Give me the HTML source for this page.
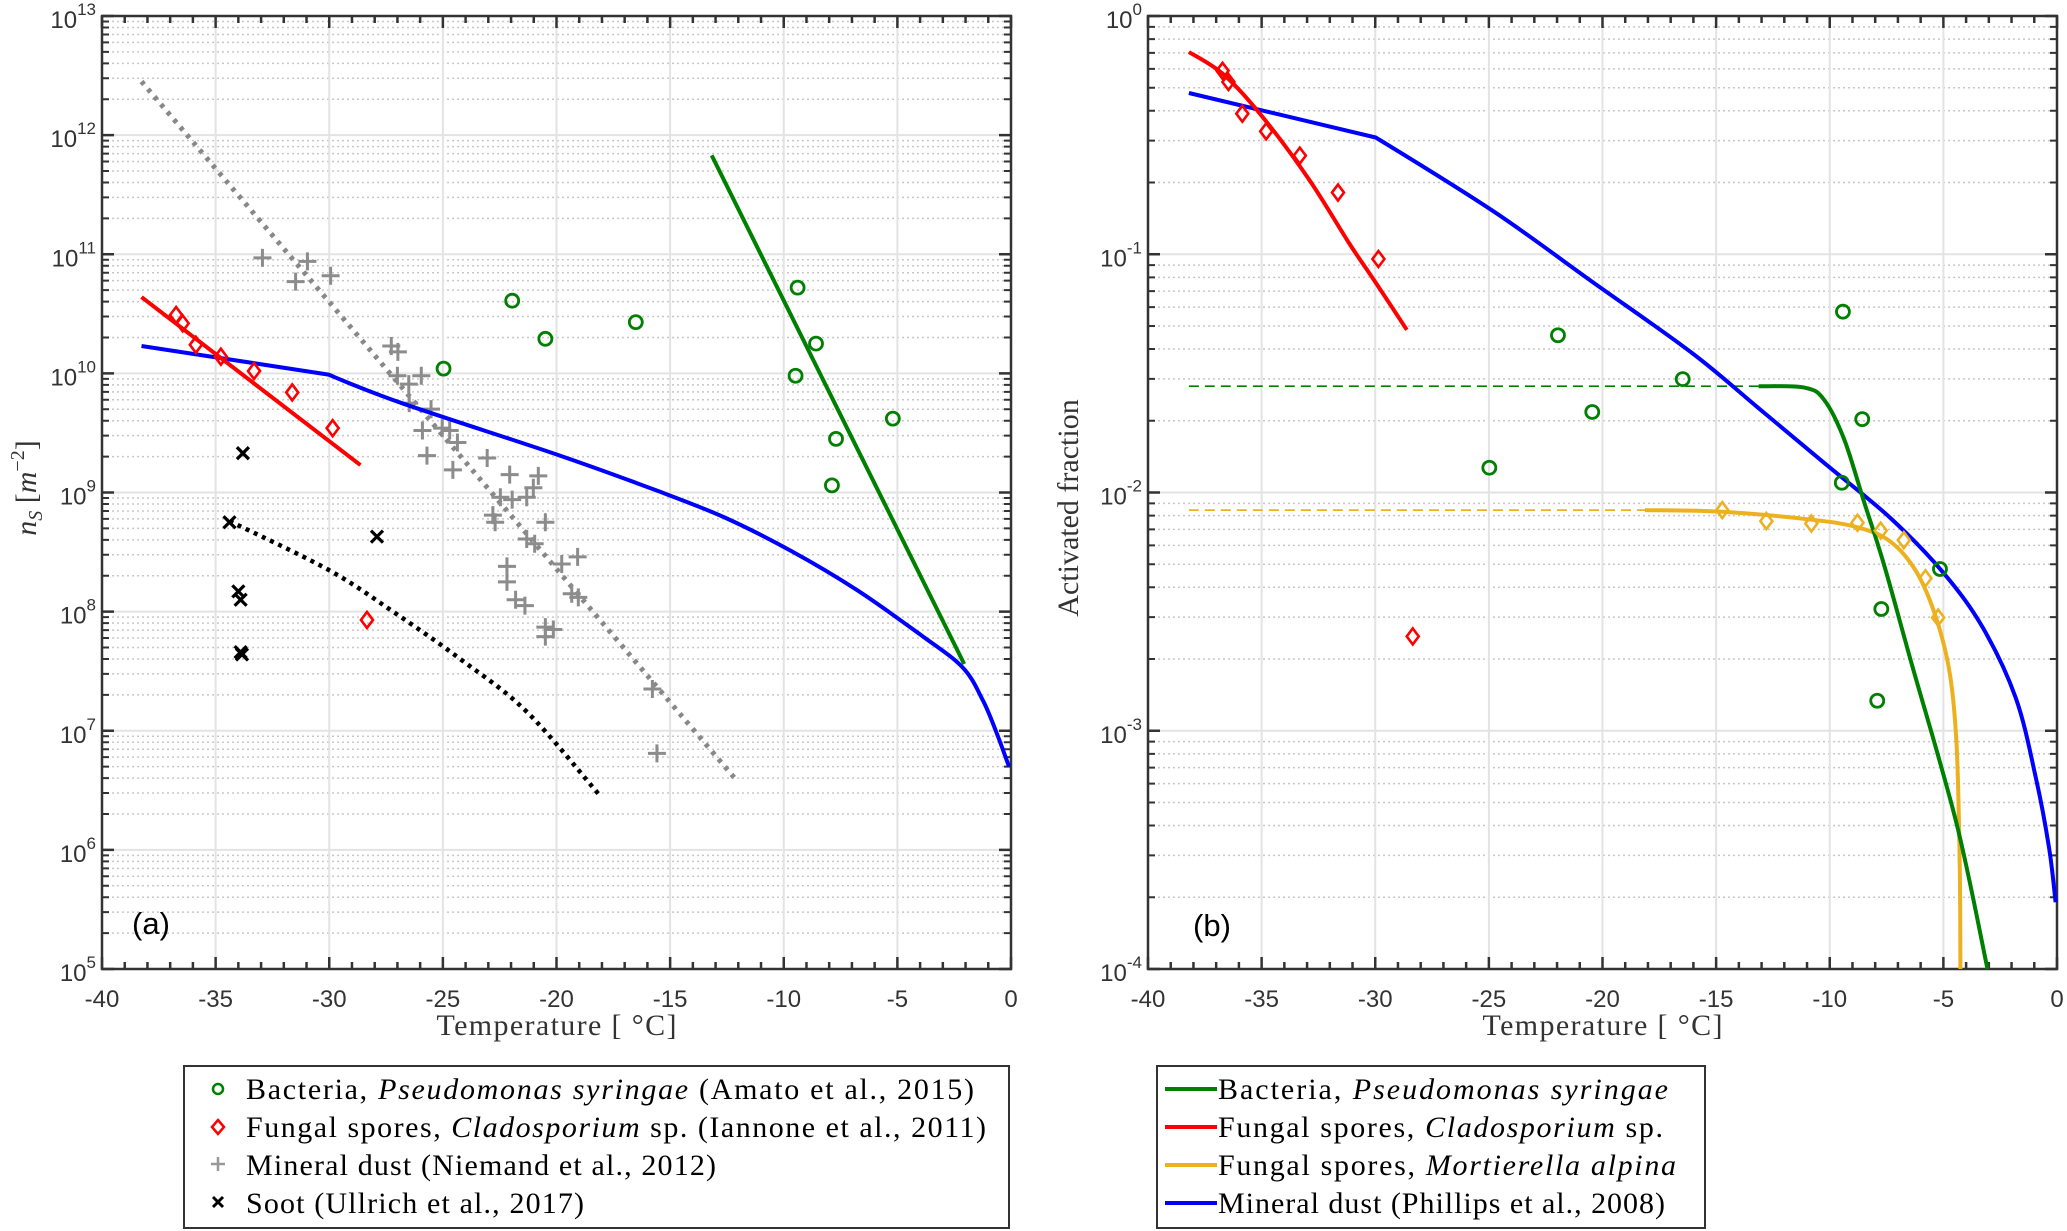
<!DOCTYPE html>
<html><head><meta charset="utf-8">
<style>
html,body{margin:0;padding:0;background:#fff;}
svg{display:block;}
.tick{font-family:"Liberation Sans",sans-serif;font-size:24px;fill:#333;}
.lab{font-family:"Liberation Serif",serif;font-size:30px;fill:#333;}
.leg{font-family:"Liberation Serif",serif;font-size:30px;fill:#000;}
</style></head>
<body>
<svg id="fig" width="2067" height="1231" viewBox="0 0 2067 1231" xmlns="http://www.w3.org/2000/svg">
<g id="pa"></g>
<g id="pb"></g>
<g id="legA">
 <rect x="184" y="1066" width="825" height="162" fill="#fff" stroke="#333" stroke-width="2"/>
 <circle cx="218" cy="1089" r="5" fill="none" stroke="#008000" stroke-width="2.5"/>
 <text class="leg" x="246" y="1099" textLength="728" lengthAdjust="spacing">Bacteria,  <tspan font-style="italic">Pseudomonas syringae</tspan> (Amato et al., 2015)</text>
 <path d="M218 1120 L224 1127 L218 1134 L212 1127 Z" fill="none" stroke="#f00" stroke-width="2.5"/>
 <text class="leg" x="246" y="1137" textLength="740" lengthAdjust="spacing">Fungal spores,  <tspan font-style="italic">Cladosporium</tspan> sp. (Iannone et al., 2011)</text>
 <path d="M218 1157 V1171 M211 1164 H225" stroke="#999" stroke-width="2.5"/>
 <text class="leg" x="246" y="1175" textLength="470" lengthAdjust="spacing">Mineral dust (Niemand et al., 2012)</text>
 <path d="M213 1197 L223 1207 M223 1197 L213 1207" stroke="#000" stroke-width="3"/>
 <text class="leg" x="246" y="1213" textLength="338" lengthAdjust="spacing">Soot (Ullrich et al., 2017)</text>
</g>
<g id="legB">
 <rect x="1157" y="1066" width="548" height="162" fill="#fff" stroke="#333" stroke-width="2"/>
 <line x1="1165" y1="1089" x2="1217" y2="1089" stroke="#008000" stroke-width="4"/>
 <text class="leg" x="1218" y="1099" textLength="450" lengthAdjust="spacing">Bacteria,  <tspan font-style="italic">Pseudomonas syringae</tspan></text>
 <line x1="1165" y1="1127" x2="1217" y2="1127" stroke="#f00" stroke-width="4"/>
 <text class="leg" x="1218" y="1137" textLength="445" lengthAdjust="spacing">Fungal spores,  <tspan font-style="italic">Cladosporium</tspan> sp.</text>
 <line x1="1165" y1="1165" x2="1217" y2="1165" stroke="#edb120" stroke-width="4"/>
 <text class="leg" x="1218" y="1175" textLength="458" lengthAdjust="spacing">Fungal spores,  <tspan font-style="italic">Mortierella alpina</tspan></text>
 <line x1="1165" y1="1203" x2="1217" y2="1203" stroke="#00f" stroke-width="4"/>
 <text class="leg" x="1218" y="1213" textLength="447" lengthAdjust="spacing">Mineral dust (Phillips et al., 2008)</text>
</g>
</svg>
<script>
// ---------- data: panel (a), values as [T, log10(nS)] ----------
const aGreenLineT=[-13.17,-2.06];
const aGreenLineLog=[11.83,7.56];
const aGreenPtsT=[-21.95,-20.49,-16.51,-24.97,-9.39,-8.58,-9.48,-7.70,-7.88,-5.2];
const aGreenPtsLog=[10.61,10.29,10.43,10.04,10.72,10.25,9.98,9.45,9.06,9.62];
const aRedLineT=[-38.26,-28.63];
const aRedLineLog=[10.64,9.23];
const aRedPtsT=[-36.74,-36.45,-35.87,-34.77,-33.31,-31.63,-29.85,-28.34];
const aRedPtsLog=[10.49,10.42,10.24,10.14,10.02,9.84,9.54,7.93];
const aBlueT=[-38.26,-30.03,-26.8,-19.85,-15.5,-12.6,-9.68,-6.77,-3.87,-2.12,-1.25,-0.67,-0.09];
const aBlueLog=[10.23,9.99,9.75,9.31,9.01,8.79,8.51,8.18,7.79,7.53,7.26,7.0,6.70];
const aGrayLineT=[-38.26,-12.15];
const aGrayLineLog=[12.45,6.60];
const aBlackLineT=[-34.39,-30.03,-27.12,-24.22,-21.31,-18.11];
const aBlackLineLog=[8.76,8.35,7.99,7.60,7.16,6.46];
const aSootT=[-33.8,-34.39,-27.9,-34.0,-33.9,-33.9,-33.84];
const aSootLog=[9.33,8.75,8.63,8.17,8.1,7.66,7.64];
const aDustT=[-32.94,-31.48,-30.96,-29.94,-27.27,-26.98,-27.0,-26.5,-25.95,-26.48,-25.52,-25.9,-25.03,-24.7,-24.36,-25.7,-24.56,-23.05,-22.06,-22.47,-21.95,-22.8,-22.7,-21.31,-21.02,-20.8,-20.49,-21.31,-20.96,-22.18,-22.18,-21.8,-21.39,-20.49,-20.14,-20.49,-19.77,-19.07,-19.33,-19.04,-15.78,-15.58];
const aDustLog=[10.97,10.77,10.94,10.82,10.23,10.18,9.98,9.91,9.98,9.75,9.70,9.52,9.54,9.52,9.42,9.31,9.19,9.29,9.15,8.96,8.94,8.81,8.75,8.96,9.04,9.14,8.75,8.61,8.57,8.38,8.25,8.10,8.05,7.87,7.85,7.79,8.40,8.46,8.15,8.12,7.35,6.81];
// ---------- data: panel (b), values as [T, log10(fraction)] ----------
const bRedT=[-38.2,-36.66,-34.92,-32.88,-31.14,-29.98,-28.61];
const bRedLog=[-0.151,-0.247,-0.428,-0.691,-0.955,-1.119,-1.317];
const bRedPtsT=[-36.72,-36.46,-35.85,-34.8,-33.32,-31.64,-29.86,-28.35];
const bRedPtsLog=[-0.23,-0.277,-0.41,-0.484,-0.586,-0.741,-1.02,-2.604];
const bBlueT=[-38.2,-29.98,-24.75,-20.4,-16.04,-13.13,-10.23,-7.33,-5.0,-3.26,-1.81,-0.94,-0.35,-0.06];
const bBlueLog=[-0.323,-0.51,-0.823,-1.119,-1.416,-1.646,-1.877,-2.107,-2.337,-2.568,-2.864,-3.193,-3.49,-3.72];
const bGreenDashT=[-38.2,-13.13];
const bGreenDashLog=[-1.554,-1.554];
const bGreenT=[-13.13,-11.1,-10.23,-9.36,-8.49,-7.62,-6.45,-4.42,-3.06];
const bGreenLog=[-1.554,-1.56,-1.613,-1.778,-2.04,-2.30,-2.70,-3.39,-4.0];
const bGreenPtsT=[-21.96,-20.45,-24.98,-16.47,-9.42,-8.57,-9.47,-5.15,-7.73,-7.91];
const bGreenPtsLog=[-1.34,-1.662,-1.896,-1.524,-1.241,-1.692,-1.959,-2.321,-2.489,-2.874];
const bOrangeDashT=[-38.2,-18.13];
const bOrangeDashLog=[-2.074,-2.074];
const bOrangeT=[-18.13,-14.73,-10.81,-8.78,-7.33,-6.16,-5.29,-4.71,-4.42,-4.28,-4.25];
const bOrangeLog=[-2.074,-2.081,-2.114,-2.146,-2.206,-2.337,-2.535,-2.765,-3.06,-3.556,-4.0];
const bOrangePtsT=[-14.73,-12.79,-10.81,-8.78,-7.76,-6.74,-5.79,-5.23];
const bOrangePtsLog=[-2.074,-2.12,-2.13,-2.127,-2.16,-2.2,-2.36,-2.525];
const xTicks=[-40,-35,-30,-25,-20,-15,-10,-5,0];
const aYExp=[5,6,7,8,9,10,11,12,13];
const bYExp=[-4,-3,-2,-1,0];

const NS='http://www.w3.org/2000/svg';
function mk(tag,attrs,parent){const e=document.createElementNS(NS,tag);for(const k in attrs)e.setAttribute(k,attrs[k]);parent.appendChild(e);return e;}

function makeAxes(L,R,T,B,yMin,yMax){
  return {x:t=>L+(t+40)/40*(R-L), y:l=>B-(l-yMin)/(yMax-yMin)*(B-T), L,R,T,B,yMin,yMax};
}
const A=makeAxes(102,1011,16,969,5,13);
const Bx=makeAxes(1148,2057,16,969,-4,0);

function drawFrame(g,ax,exps,pre){
  for(let d=ax.yMin; d<ax.yMax; d++){
    for(let m=2;m<=9;m++){
      const y=ax.y(d+Math.log10(m));
      const ln=mk('line',{x1:ax.L,x2:ax.R,y1:y,y2:y,stroke:'#c8c8c8','stroke-width':1.5,'stroke-dasharray':'2 3'},g);
      
      
      const tk=mk('path',{d:`M${ax.L} ${y}h7M${ax.R} ${y}h-7`,stroke:'#333','stroke-width':2},g);
      
      
    }
  }
  xTicks.forEach(t=>{
    const x=ax.x(t);
    const ln=mk('line',{x1:x,x2:x,y1:ax.T,y2:ax.B,stroke:'#e3e3e3','stroke-width':2},g);
    
    
  });
  exps.forEach(e=>{
    const y=ax.y(e);
    const ln=mk('line',{x1:ax.L,x2:ax.R,y1:y,y2:y,stroke:'#e3e3e3','stroke-width':2},g);
    
    
  });
  for(let t=-40;t<=0;t++){
    const x=ax.x(t); const len=(t%5===0)?12:7;
    const tk=mk('path',{d:`M${x} ${ax.B}v${-len}M${x} ${ax.T}v${len}`,stroke:'#333','stroke-width':2.5},g);
    
    
  }
  xTicks.forEach(t=>{
    const tx=mk('text',{x:ax.x(t),y:ax.B+38,'text-anchor':'middle',class:'tick'},g);
    tx.textContent=String(t);
    
    
  });
  exps.forEach(e=>{
    const y=ax.y(e);
    const tk=mk('path',{d:`M${ax.L} ${y}h12M${ax.R} ${y}h-12`,stroke:'#333','stroke-width':2.5},g);
    
    
    const tx=mk('text',{x:ax.L-6,y:y+12,'text-anchor':'end',class:'tick'},g);
    tx.innerHTML='10<tspan dy="-13" font-size="17">'+e+'</tspan>';
    
    
  });
  const fr=mk('rect',{x:ax.L,y:ax.T,width:ax.R-ax.L,height:ax.B-ax.T,fill:'none',stroke:'#333','stroke-width':2.5},g);
  
  
  const xl=mk('text',{x:(ax.L+ax.R)/2-120,y:1035,class:'lab',textLength:240,lengthAdjust:'spacing'},g);
  xl.textContent='Temperature [  °C]';
  
  
}

// smooth (Catmull-Rom) path through data points; corners = indices kept sharp
function line(g,ax,T,Lg,attrs,name,corners){
  corners=corners||[];
  const P=T.map((t,i)=>[ax.x(t),ax.y(Lg[i])]);
  const n=P.length;
  const prev=i=>(i===0||corners.includes(i))?P[i]:P[i-1];
  const next=i=>(i===n-1||corners.includes(i))?P[i]:P[i+1];
  let d='M'+P[0][0].toFixed(1)+' '+P[0][1].toFixed(1);
  for(let i=0;i<n-1;i++){
    const p1=P[i],p2=P[i+1];
    const a0=prev(i),a1=next(i),b0=prev(i+1),b1=next(i+1);
    const c1=[p1[0]+(a1[0]-a0[0])/6,p1[1]+(a1[1]-a0[1])/6];
    const c2=[p2[0]-(b1[0]-b0[0])/6,p2[1]-(b1[1]-b0[1])/6];
    d+=`C${c1[0].toFixed(1)} ${c1[1].toFixed(1)} ${c2[0].toFixed(1)} ${c2[1].toFixed(1)} ${p2[0].toFixed(1)} ${p2[1].toFixed(1)}`;
  }
  const p=mk('path',Object.assign({d:d,fill:'none','stroke-linejoin':'round'},attrs),g);
  
  
}
function circles(g,ax,T,Lg,col,name){
  T.forEach((t,i)=>{
    const c=mk('circle',{cx:ax.x(t),cy:ax.y(Lg[i]),r:6.5,fill:'none',stroke:col,'stroke-width':2.8},g);
    
    
  });
}
function diamonds(g,ax,T,Lg,col,name){
  T.forEach((t,i)=>{
    const x=ax.x(t),y=ax.y(Lg[i]);
    const p=mk('path',{d:`M${x} ${y-8}L${x+6} ${y}L${x} ${y+8}L${x-6} ${y}Z`,fill:'none',stroke:col,'stroke-width':2.6},g);
    
    
  });
}
function pluses(g,ax,T,Lg,col,name){
  T.forEach((t,i)=>{
    const x=ax.x(t),y=ax.y(Lg[i]);
    const p=mk('path',{d:`M${x-9} ${y}h18M${x} ${y-9}v18`,stroke:col,'stroke-width':3},g);
    
    
  });
}
function crosses(g,ax,T,Lg,col,name){
  T.forEach((t,i)=>{
    const x=ax.x(t),y=ax.y(Lg[i]);
    const p=mk('path',{d:`M${x-6} ${y-6}l12 12M${x+6} ${y-6}l-12 12`,stroke:col,'stroke-width':3.2},g);
    
    
  });
}

// Panel a
const ga=document.getElementById('pa');
drawFrame(ga,A,aYExp,'a-');
line(ga,A,aGrayLineT,aGrayLineLog,{stroke:'#888','stroke-width':5,'stroke-dasharray':'4 6'},'a-dust-fit-line');
line(ga,A,aBlackLineT,aBlackLineLog,{stroke:'#000','stroke-width':4.5,'stroke-dasharray':'4 5'},'a-soot-fit-line');
pluses(ga,A,aDustT,aDustLog,'#8c8c8c','a-dust-point');
crosses(ga,A,aSootT,aSootLog,'#000','a-soot-point');
line(ga,A,aBlueT,aBlueLog,{stroke:'#0000ff','stroke-width':4},'a-mineral-dust-curve',[1]);
line(ga,A,aRedLineT,aRedLineLog,{stroke:'#ff0000','stroke-width':4},'a-fungal-fit-line');
line(ga,A,aGreenLineT,aGreenLineLog,{stroke:'#008000','stroke-width':4},'a-bacteria-fit-line');
circles(ga,A,aGreenPtsT,aGreenPtsLog,'#008000','a-bacteria-point');
diamonds(ga,A,aRedPtsT,aRedPtsLog,'#ff0000','a-fungal-point');
let t=mk('text',{x:132,y:934,style:'font-family:"Liberation Sans",sans-serif;font-size:31px;fill:#000'},ga);
t.textContent='(a)';


t=mk('text',{x:0,y:0,transform:'translate(36,488) rotate(-90)','text-anchor':'middle',class:'lab'},ga);
t.innerHTML='<tspan font-style="italic">n</tspan><tspan font-style="italic" font-size="20" dy="6">S</tspan><tspan dy="-6"> [</tspan><tspan font-style="italic">m</tspan><tspan font-size="20" dy="-12">−2</tspan><tspan dy="12">]</tspan>';



// Panel b
const gb=document.getElementById('pb');
drawFrame(gb,Bx,bYExp,'b-');
line(gb,Bx,bGreenDashT,bGreenDashLog,{stroke:'#008000','stroke-width':1.6,'stroke-dasharray':'10 6'},'b-bacteria-dashed-line');
line(gb,Bx,bOrangeDashT,bOrangeDashLog,{stroke:'#edb120','stroke-width':1.8,'stroke-dasharray':'10 6'},'b-mortierella-dashed-line');
line(gb,Bx,bBlueT,bBlueLog,{stroke:'#0000ff','stroke-width':4},'b-mineral-dust-curve',[1]);
line(gb,Bx,bRedT,bRedLog,{stroke:'#ff0000','stroke-width':4},'b-cladosporium-curve');
line(gb,Bx,bOrangeT,bOrangeLog,{stroke:'#edb120','stroke-width':4},'b-mortierella-curve');
line(gb,Bx,bGreenT,bGreenLog,{stroke:'#008000','stroke-width':4},'b-bacteria-curve');
circles(gb,Bx,bGreenPtsT,bGreenPtsLog,'#008000','b-bacteria-point');
diamonds(gb,Bx,bRedPtsT,bRedPtsLog,'#ff0000','b-cladosporium-point');
diamonds(gb,Bx,bOrangePtsT,bOrangePtsLog,'#edb120','b-mortierella-point');
t=mk('text',{x:1193,y:936,style:'font-family:"Liberation Sans",sans-serif;font-size:31px;fill:#000'},gb);
t.textContent='(b)';


t=mk('text',{x:0,y:0,transform:'translate(1078,508) rotate(-90)','text-anchor':'middle',class:'lab'},gb);
t.textContent='Activated fraction';


</script>
</body></html>
